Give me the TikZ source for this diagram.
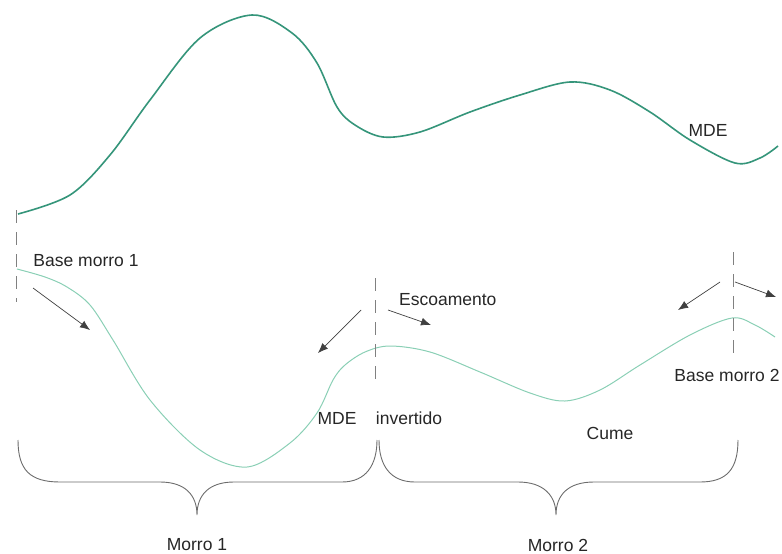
\documentclass[tikz,border=0pt]{standalone}
\usepackage{fontspec}
\setmainfont{Liberation Sans}
\usetikzlibrary{arrows.meta}
\definecolor{mdeTop}{HTML}{35957A}
\definecolor{mdeInv}{HTML}{8ACFB5}
\definecolor{dashgray}{HTML}{808080}
\definecolor{arrgray}{HTML}{404040}
\tikzset{
  lbl/.style={font=\fontsize{17.5}{19}\selectfont, inner sep=0pt, text=black!85},
  dashline/.style={dashgray, line width=1pt, dash pattern=on 13pt off 9pt},
  flow/.style={arrgray, line width=0.7pt, -{Latex[length=10pt,width=8pt]}},
  bracepath/.style={gray!85!black, line width=0.9pt}
}
\begin{document}
\begin{tikzpicture}[x=1pt,y=-1pt]
\useasboundingbox (0,0) rectangle (782,554);
% top MDE
\draw[mdeTop, line width=1.6pt] plot[smooth, tension=0.55] coordinates {
 (18,214) (70,195) (110,155) (150,100) (200,38) (252,15) (292,33) (317,63)
 (337,107) (355,125) (383,137) (420,132) (470,112) (520,95) (570,82)
 (610,90) (650,112) (690,140) (735,163) (760,158) (778,146)};
% inverted MDE
\draw[mdeInv, line width=1pt] plot[smooth, tension=0.55] coordinates {
 (17,269) (45,277) (67,287) (90,305) (113,340) (150,400) (200,450) (247,467)
 (290,443) (317,413) (333,380) (345,365) (365,352) (390,346) (430,352)
 (480,372) (530,393) (565,401) (600,390) (640,365) (690,335) (732,318)
 (755,325) (775,337)};
% dashed lines
\coordinate (d1a) at (16,210); \coordinate (d1b) at (16,302);
\coordinate (d2a) at (375,278); \coordinate (d2b) at (375,387);
\coordinate (d3a) at (733,252); \coordinate (d3b) at (733,356);
\draw[dashline] (d1a) -- (d1b);
\draw[dashline] (d2a) -- (d2b);
\draw[dashline] (d3a) -- (d3b);
% arrows
\coordinate (a1s) at (33,288); \coordinate (a1e) at (90,330);
\coordinate (a2s) at (361,310); \coordinate (a2e) at (318,353);
\coordinate (a3s) at (388,310); \coordinate (a3e) at (431,325);
\coordinate (a4s) at (720,282); \coordinate (a4e) at (678,310);
\coordinate (a5s) at (735,282); \coordinate (a5e) at (776,297);
\draw[flow] (a1s) -- (a1e);
\draw[flow] (a2s) -- (a2e);
\draw[flow] (a3s) -- (a3e);
\draw[flow] (a4s) -- (a4e);
\draw[flow] (a5s) -- (a5e);
% braces
\draw[bracepath] (18,440) .. controls (18,470) and (30,482) .. (60,482) -- (160,482)
  .. controls (185,482) and (197,495) .. (197,515)
  .. controls (197,495) and (209,482) .. (234,482) -- (342,482)
  .. controls (366,482) and (377,465) .. (377,440);
\draw[bracepath] (379,440) .. controls (379,465) and (390,482) .. (415,482) -- (518,482)
  .. controls (543,482) and (556,495) .. (556,515)
  .. controls (556,495) and (568,482) .. (594,482) -- (700,482)
  .. controls (726,482) and (738,470) .. (738,440);
% labels
\node[lbl] (mdetop) at (708,130) {MDE};
\node[lbl] (base1) at (86,261) {Base morro 1};
\node[lbl, anchor=west] (esc) at (399,300) {Escoamento};
\node[lbl] (base2) at (727,375) {Base morro 2};
\node[lbl] (mdeinv) at (337,418) {MDE};
\node[lbl] (inv) at (409,418) {invertido};
\node[lbl] (cume) at (610,433) {Cume};
\node[lbl] (m1) at (197,545) {Morro 1};
\node[lbl] (m2) at (558,545) {Morro 2};
\end{tikzpicture}
\end{document}
